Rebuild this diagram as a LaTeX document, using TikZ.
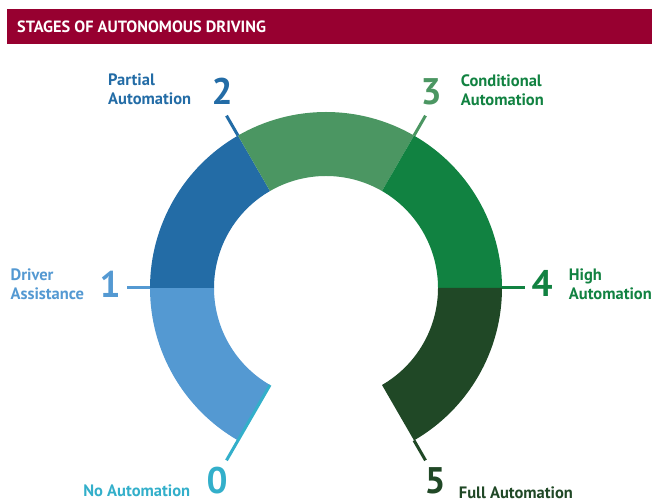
\documentclass[tikz,border=0pt]{standalone}
\usepackage{fontspec}
\setmainfont{PT Sans}
\usetikzlibrary{positioning}

\definecolor{titlered}{HTML}{970030}
\definecolor{lvlzero}{HTML}{33AFCA}
\definecolor{lvlone}{HTML}{5499D2}
\definecolor{lvltwo}{HTML}{236CA6}
\definecolor{lvlthree}{HTML}{4B9662}
\definecolor{lvlfour}{HTML}{118241}
\definecolor{lvlfive}{HTML}{204826}

\begin{document}
\begin{tikzpicture}[x=1pt,y=1pt,
		stage num/.style={font=\bfseries\fontsize{37}{37}\selectfont,inner sep=0pt,anchor=south},
		stage text/.style={font=\bfseries\fontsize{16.5}{19.5}\selectfont,inner sep=0pt,align=left},
		stage tick/.style={line width=3pt}]

		\useasboundingbox (0,0) rectangle (652,502);

		% title bar
		\fill[titlered] (7,458) rectangle (652,493);
		\node[anchor=west,text=white,inner sep=0pt,font=\bfseries\fontsize{16.3}{16.3}\selectfont] (title) at (17,475.5) {STAGES OF AUTONOMOUS DRIVING};

		\coordinate (c) at (326,214);

		% ring, one 60 degree piece per stage
		\foreach \a/\col in {240/lvlone,180/lvltwo,120/lvlthree,60/lvlfour,0/lvlfive}
		\fill[\col] ([shift={(\a:176)}]c) arc[start angle=\a,end angle=\a-60,radius=176]
		-- ([shift={(\a-60:112)}]c) arc[start angle=\a-60,end angle=\a,radius=112] -- cycle;

		% ticks at the borders
		\foreach \a/\col/\n in {180/lvlone/1,120/lvltwo/2,60/lvlthree/3,0/lvlfour/4,-60/lvlfive/5}{
			\coordinate (t\n) at ([shift={(\a:199)}]c);
			\draw[stage tick,\col] ([shift={(\a:176)}]c) -- (t\n);
		}
		\coordinate (t0) at ([shift={(240:199)}]c);
		\draw[stage tick,lvlzero] ([shift={(240:112)}]c) -- (t0);

		% numbers
		\node[stage num,text=lvlzero] (n0) at (217,8) {0};
		\node[stage num,text=lvlone] (n1) at (110,204) {1};
		\node[stage num,text=lvltwo] (n2) at (222,397) {2};
		\node[stage num,text=lvlthree] (n3) at (431,397) {3};
		\node[stage num,text=lvlfour] (n4) at (542,205) {4};
		\node[stage num,text=lvlfive] (n5) at (435,8) {5};

		% names of the stages
		\node[stage text,text=lvlzero,left=16pt of n0.south west,anchor=south east,yshift=-3pt] (s0) {No Automation};
		\node[stage text,text=lvlone,left=15pt of n1.south west,anchor=south east,yshift=-2pt] (s1) {Driver\\Assistance};
		\node[stage text,text=lvltwo,left=20pt of n2.south west,anchor=south east] (s2) {Partial\\Automation};
		\node[stage text,text=lvlfour,right=19pt of n3.south east,anchor=south west,yshift=-1pt] (s3) {Conditional\\Automation};
		\node[stage text,text=lvlfour,right=16pt of n4.south east,anchor=south west,yshift=-3pt] (s4) {High\\Automation};
		\node[stage text,text=lvlfive,right=13pt of n5.south east,anchor=south west,yshift=-5pt] (s5) {Full Automation};
\end{tikzpicture}
\end{document}
